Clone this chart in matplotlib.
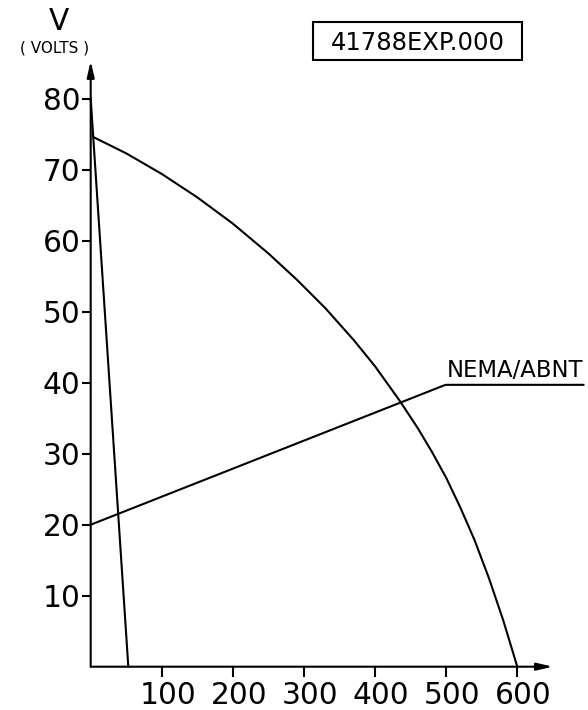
import matplotlib
matplotlib.use("Agg")
import matplotlib.pyplot as plt
from matplotlib.patches import Rectangle
from matplotlib.transforms import ScaledTranslation

# ---- data ----
x_ticks = [100, 200, 300, 400, 500, 600]
y_ticks = [10, 20, 30, 40, 50, 60, 70, 80]

steep_x = [0, 52.9]
steep_y = [80, 0]

arc_x = [3.7, 50, 100, 150, 200, 250, 290, 330, 370, 400, 435, 460, 480, 500, 520, 540, 560, 580, 600]
arc_y = [74.6, 72.3, 69.4, 66.1, 62.4, 58.2, 54.5, 50.5, 46.0, 42.3, 37.4, 33.6, 30.25, 26.6, 22.4, 17.8, 12.5, 6.6, 0]

nema_x = [0, 499, 693]
nema_y = [20, 39.7, 39.7]
nema_label = "NEMA/ABNT"
box_label = "41788EXP.000"

W, H = 588, 710
fig = plt.figure(figsize=(W / 100, H / 100), dpi=100)
fig.patch.set_facecolor("white")

x0, y0 = 90.7, 666.7
x600, y80 = 517.3, 98.7
ax = fig.add_axes([x0 / W, 1 - y0 / H, (x600 - x0) / W, (y0 - y80) / H])
ax.set_xlim(0, 600)
ax.set_ylim(0, 80)
for s in ax.spines.values():
    s.set_visible(False)
ax.patch.set_alpha(0)

lw = 1.5
ax.plot(steep_x, steep_y, color="black", lw=lw, clip_on=False)
ax.plot(arc_x, arc_y, color="black", lw=lw, clip_on=False, solid_joinstyle="round")
ax.plot(nema_x, nema_y, color="black", lw=lw, clip_on=False)
ax.text(501, 40.8, nema_label, fontsize=16.4, ha="left", va="baseline", color="black")

# axes with arrows
arrow_style = "-|>,head_length=0.95,head_width=0.22"
ax.annotate("", xy=(0, 85.3), xytext=(0, 0), xycoords="data",
            arrowprops=dict(arrowstyle=arrow_style, mutation_scale=10, lw=lw,
                            color="black", shrinkA=0, shrinkB=0),
            annotation_clip=False)
ax.annotate("", xy=(650, 0), xytext=(0, 0), xycoords="data",
            arrowprops=dict(arrowstyle=arrow_style, mutation_scale=10, lw=lw,
                            color="black", shrinkA=0, shrinkB=0),
            annotation_clip=False)

ax.set_xticks(x_ticks)
ax.set_xticklabels([str(v) for v in x_ticks])
ax.set_yticks(y_ticks)
ax.set_yticklabels([str(v) for v in y_ticks])
ax.tick_params(axis="x", direction="out", length=7.2, width=1.5, pad=3.2,
               labelsize=21.3, colors="black")
ax.tick_params(axis="y", direction="out", length=6.5, width=1.5, pad=0.8,
               labelsize=21.3, colors="black")
off = ScaledTranslation(6 / 100, 0, fig.dpi_scale_trans)
for lab in ax.get_xticklabels():
    lab.set_transform(lab.get_transform() + off)

# axis title
fig.text(59 / W, 1 - 21 / H, "V", fontsize=21.3, ha="center", va="center")
fig.text(55 / W, 1 - 48 / H, "( VOLTS )", fontsize=11, ha="center", va="center")

# boxed label
bx0, by0, bx1, by1 = 313.3, 21.7, 521.7, 60
fig.patches.append(Rectangle((bx0 / W, 1 - by1 / H), (bx1 - bx0) / W, (by1 - by0) / H,
                             transform=fig.transFigure, fill=False, lw=1.5,
                             edgecolor="black"))
fig.text((bx0 + bx1) / 2 / W, 1 - 42.5 / H, box_label, fontsize=17.5,
         ha="center", va="center")

fig.savefig("out.png", dpi=100)
